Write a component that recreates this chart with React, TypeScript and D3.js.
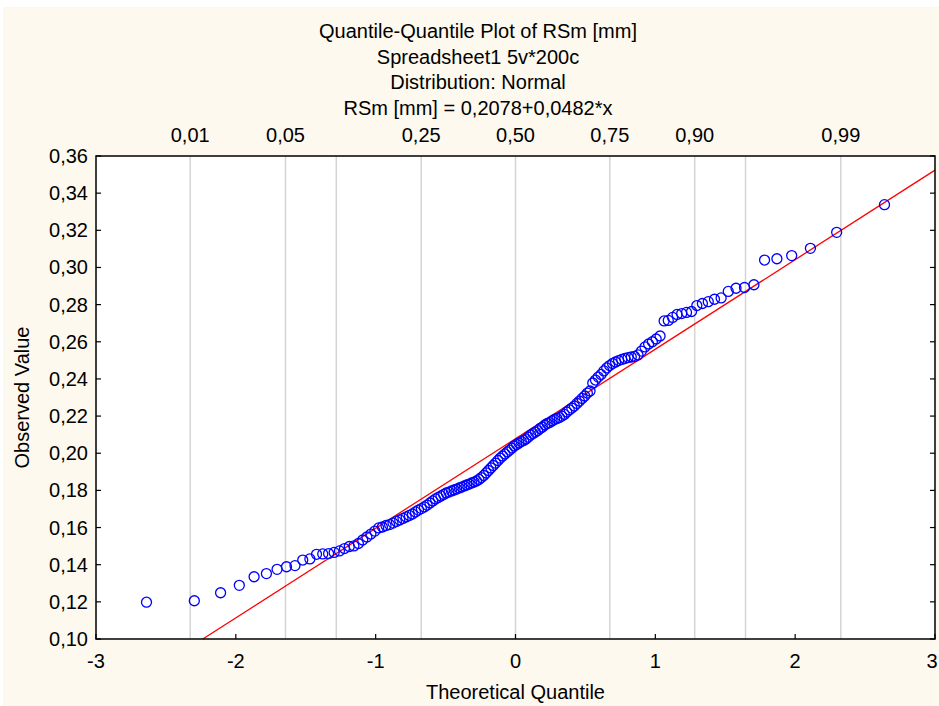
import React from "react";
import * as d3 from "d3";

const observed: number[] = [
  0.1198, 0.1206, 0.1249, 0.1289, 0.1335, 0.1352, 0.1375, 0.1389, 0.1395, 0.1425,
  0.1431, 0.1456, 0.1458, 0.146, 0.1466, 0.1474, 0.1487, 0.1498, 0.1501, 0.1514,
  0.1533, 0.1549, 0.1565, 0.1581, 0.1598, 0.1603, 0.1611, 0.1616, 0.1624, 0.1633,
  0.1641, 0.1649, 0.1657, 0.1665, 0.1673, 0.1684, 0.1694, 0.1702, 0.1711, 0.1721,
  0.1732, 0.1743, 0.1754, 0.1762, 0.177, 0.1778, 0.1786, 0.1791, 0.1797, 0.1802,
  0.1807, 0.1813, 0.1818, 0.1824, 0.1829, 0.1834, 0.184, 0.1845, 0.1851, 0.1859,
  0.1869, 0.188, 0.1894, 0.1907, 0.1921, 0.1934, 0.1947, 0.1961, 0.1974, 0.1985,
  0.1996, 0.2007, 0.2017, 0.2028, 0.2039, 0.2047, 0.2055, 0.2063, 0.2069, 0.2077,
  0.2087, 0.2098, 0.2106, 0.2114, 0.2122, 0.2133, 0.2141, 0.2152, 0.216, 0.2165,
  0.2174, 0.2182, 0.2187, 0.2192, 0.22, 0.2209, 0.2222, 0.2233, 0.2243, 0.2254,
  0.2268, 0.2281, 0.2295, 0.2308, 0.2324, 0.2335, 0.2378, 0.2394, 0.241, 0.2424,
  0.2443, 0.2459, 0.2472, 0.2483, 0.2491, 0.2499, 0.2505, 0.251, 0.2515, 0.2518,
  0.2521, 0.2529, 0.255, 0.2572, 0.2588, 0.26, 0.2615, 0.2631, 0.2712, 0.2715,
  0.2731, 0.2747, 0.2752, 0.2758, 0.2763, 0.2795, 0.2806, 0.2816, 0.2829, 0.2836,
  0.2871, 0.2888, 0.2892, 0.2907, 0.304, 0.3047, 0.3064, 0.3103, 0.3189, 0.3338,
];

const titleLines: string[] = [
  "Quantile-Quantile Plot of RSm [mm]",
  "Spreadsheet1 5v*200c",
  "Distribution: Normal",
  "RSm [mm] = 0,2078+0,0482*x",
];
const xTicks: number[] = [-3, -2, -1, 0, 1, 2, 3];
const yTicks: number[] = [0.10, 0.12, 0.14, 0.16, 0.18, 0.20, 0.22, 0.24, 0.26, 0.28, 0.30, 0.32, 0.34, 0.36];
const probGrid: number[] = [0.01, 0.05, 0.10, 0.25, 0.50, 0.75, 0.90, 0.95, 0.99];
const probLabeled: number[] = [0.01, 0.05, 0.25, 0.50, 0.75, 0.90, 0.99];
const fitIntercept = 0.2078;
const fitSlope = 0.0482;
const xLabel = "Theoretical Quantile";
const yLabel = "Observed Value";

// Inverse standard normal CDF (Acklam)
function invNorm(p: number): number {
  const a = [-3.969683028665376e1, 2.209460984245205e2, -2.759285104469687e2, 1.38357751867269e2, -3.066479806614716e1, 2.506628277459239];
  const b = [-5.447609879822406e1, 1.615858368580409e2, -1.556989798598866e2, 6.680131188771972e1, -1.328068155288572e1];
  const c = [-7.784894002430293e-3, -3.223964580411365e-1, -2.400758277161838, -2.549732539343734, 4.374664141464968, 2.938163982698783];
  const d = [7.784695709041462e-3, 3.224671290700398e-1, 2.445134137142996, 3.754408661907416];
  const pl = 0.02425;
  let q: number, r: number;
  if (p < pl) {
    q = Math.sqrt(-2 * Math.log(p));
    return (((((c[0] * q + c[1]) * q + c[2]) * q + c[3]) * q + c[4]) * q + c[5]) / ((((d[0] * q + d[1]) * q + d[2]) * q + d[3]) * q + 1);
  } else if (p <= 1 - pl) {
    q = p - 0.5;
    r = q * q;
    return ((((((a[0] * r + a[1]) * r + a[2]) * r + a[3]) * r + a[4]) * r + a[5]) * q) / (((((b[0] * r + b[1]) * r + b[2]) * r + b[3]) * r + b[4]) * r + 1);
  } else {
    q = Math.sqrt(-2 * Math.log(1 - p));
    return -(((((c[0] * q + c[1]) * q + c[2]) * q + c[3]) * q + c[4]) * q + c[5]) / ((((d[0] * q + d[1]) * q + d[2]) * q + d[3]) * q + 1);
  }
}

const W = 939;
const H = 706;
const L = 96, R = 935, T = 156, B = 639;
const FONT = "'Liberation Sans', Arial, sans-serif";
const fmt = (v: number) => v.toFixed(2).replace(".", ",");

export default function App() {
  const x = d3.scaleLinear().domain([-3, 3]).range([L, R]);
  const y = d3.scaleLinear().domain([0.10, 0.36]).range([B, T]);
  const n = observed.length;
  const pts = observed.map((v, i) => ({ q: invNorm((i + 1 - 0.375) / (n + 0.25)), v }));

  // fit line clipped to plot
  const xa = Math.max(-3, (0.10 - fitIntercept) / fitSlope);
  const xb = Math.min(3, (0.36 - fitIntercept) / fitSlope);
  const line = d3.line<number>().x((d) => x(d)).y((d) => y(fitIntercept + fitSlope * d));

  return (
    <svg width={W} height={H} style={{ position: "absolute", left: 0, top: 0, display: "block" }} fontFamily={FONT}>
      <rect x={0} y={0} width={W} height={H} fill="#ffffff" />
      <rect x={3} y={7} width={W - 3} height={H - 7} fill="#FDF9EE" />
      <rect x={L} y={T} width={R - L} height={B - T} fill="#ffffff" />
      {titleLines.map((t, i) => (
        <text key={i} x={478} y={38 + i * 25.7} textAnchor="middle" fontSize={20} fill="#000">{t}</text>
      ))}
      {probGrid.map((p) => (
        <line key={p} x1={x(invNorm(p))} x2={x(invNorm(p))} y1={T} y2={B} stroke="#d4d4d4" strokeWidth={1.5} />
      ))}
      {probLabeled.map((p) => (
        <text key={p} x={x(invNorm(p))} y={142} textAnchor="middle" fontSize={20} fill="#000">{fmt(p)}</text>
      ))}
      <path d={line([xa, xb]) || ""} stroke="#ff0000" strokeWidth={1.3} fill="none" />
      {pts.map((d, i) => (
        <circle key={i} cx={x(d.q)} cy={y(d.v)} r={5} fill="none" stroke="#0000ff" strokeWidth={1.3} />
      ))}
      <rect x={L} y={T} width={R - L} height={B - T} fill="none" stroke="#000" strokeWidth={1.5} />
      {yTicks.map((t) => (
        <g key={t}>
          <line x1={L} x2={L + 5} y1={y(t)} y2={y(t)} stroke="#000" strokeWidth={1.2} />
          <line x1={R - 5} x2={R} y1={y(t)} y2={y(t)} stroke="#000" strokeWidth={1.2} />
          <text x={88} y={y(t) + 7} textAnchor="end" fontSize={20} fill="#000">{fmt(t)}</text>
        </g>
      ))}
      {xTicks.map((t) => (
        <g key={t}>
          <line x1={x(t)} x2={x(t)} y1={B} y2={B - 5} stroke="#000" strokeWidth={1.2} />
          <text x={Math.min(x(t), W - 7)} y={668} textAnchor="middle" fontSize={20} fill="#000">{t}</text>
        </g>
      ))}
      <text x={x(0)} y={699} textAnchor="middle" fontSize={20} fill="#000">{xLabel}</text>
      <text transform={`translate(29, ${(T + B) / 2}) rotate(-90)`} textAnchor="middle" fontSize={20} fill="#000">{yLabel}</text>
    </svg>
  );
}
